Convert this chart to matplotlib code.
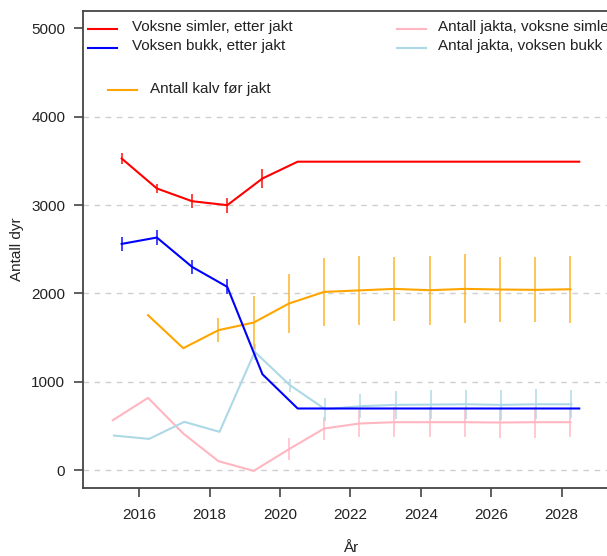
import matplotlib
matplotlib.use("Agg")
import matplotlib.pyplot as plt
from matplotlib.lines import Line2D
import numpy as np

plt.rcParams['font.family'] = ['Liberation Sans', 'DejaVu Sans']

# ---------------- data ----------------
years_adult = [2015.5, 2016.5, 2017.5, 2018.5, 2019.5, 2020.5, 2021.5, 2022.5,
               2023.5, 2024.5, 2025.5, 2026.5, 2027.5, 2028.5]
simler_etter = [3526, 3187, 3043, 2998, 3300, 3490, 3490, 3490, 3490, 3490, 3490, 3490, 3490, 3490]
simler_err = [60, 50, 80, 85, 107, 0, 0, 0, 0, 0, 0, 0, 0, 0]
bukk_etter = [2560, 2632, 2300, 2074, 1085, 698, 698, 698, 698, 698, 698, 698, 698, 698]
bukk_err = [80, 80, 80, 85, 0, 0, 0, 0, 0, 0, 0, 0, 0, 0]

years_kalv = [2016.25, 2017.25, 2018.25, 2019.25, 2020.25, 2021.25, 2022.25,
              2023.25, 2024.25, 2025.25, 2026.25, 2027.25, 2028.25]
kalv_for = [1753, 1380, 1584, 1670, 1885, 2017, 2034, 2051, 2036, 2051, 2044, 2040, 2047]
kalv_err = [0, 0, 138, 300, 335, 385, 393, 362, 392, 390, 373, 368, 380]

years_jakt_simle = [2015.25, 2016.25, 2017.25, 2018.25, 2019.25, 2020.25, 2021.25,
                    2022.25, 2023.25, 2024.25, 2025.25, 2026.25, 2027.25, 2028.25]
jakta_simler = [566, 818, 415, 102, -8, 237, 471, 528, 543, 543, 543, 539, 543, 543]
jakta_simler_err = [0, 0, 0, 0, 0, 122, 132, 155, 173, 170, 165, 170, 175, 165]

years_jakt_bukk = [2015.28, 2016.28, 2017.28, 2018.28, 2019.28, 2020.28, 2021.28,
                   2022.28, 2023.28, 2024.28, 2025.28, 2026.28, 2027.28, 2028.28]
jakta_bukk = [392, 354, 547, 434, 1338, 962, 690, 724, 739, 742, 746, 739, 746, 746]
jakta_bukk_err = [0, 0, 0, 0, 95, 75, 130, 138, 160, 165, 165, 170, 170, 160]

xticks = [2016, 2018, 2020, 2022, 2024, 2026, 2028]
yticks = [0, 1000, 2000, 3000, 4000, 5000]

labels = ["Voksne simler, etter jakt", "Voksen bukk, etter jakt",
          "Antall jakta, voksne simler", "Antal jakta, voksen bukk",
          "Antall kalv før jakt"]

# ---------------- figure ----------------
W, H = 607, 556
fig = plt.figure(figsize=(W / 100, H / 100), dpi=100)
ax = fig.add_axes([83.3 / W, 1 - 487.7 / H, 541.7 / W, 477.0 / H])

RED, BLUE, ORANGE, PINK, LBLUE = "#FF0000", "#0000FF", "#FFA500", "#FFB6C1", "#ADD8E6"

for v in yticks[:-1]:
    ax.axhline(v, color="#cfcfcf", lw=1.0, ls=(0, (4, 4)), zorder=0)

def series(x, y, err, color, lw=1.5, ealpha=0.8, z=2):
    ax.plot(x, y, color=color, lw=lw, zorder=z)
    e = np.array(err, dtype=float)
    m = e > 0
    ax.errorbar(np.array(x)[m], np.array(y)[m], yerr=e[m], fmt='none',
                ecolor=color, elinewidth=1.3, capsize=0, alpha=ealpha, zorder=z)

series(years_jakt_simle, jakta_simler, jakta_simler_err, PINK, z=2)
series(years_jakt_bukk, jakta_bukk, jakta_bukk_err, LBLUE, z=2)
series(years_kalv, kalv_for, kalv_err, ORANGE, ealpha=0.7, z=3)
series(years_adult, simler_etter, simler_err, RED, z=4)
series(years_adult, bukk_etter, bukk_err, BLUE, z=4)

ax.set_xlim(2014.41, 2029.8)
ax.set_ylim(-198, 5198)
ax.set_xticks(xticks)
ax.set_yticks(yticks)
ax.set_xticklabels([str(t) for t in xticks])
ax.set_yticklabels([str(t) for t in yticks])

for s in ['left', 'bottom', 'top', 'right']:
    ax.spines[s].set_color('#444444')
    ax.spines[s].set_linewidth(1.3)
ax.tick_params(axis='both', colors='#444444', length=6.5, width=1.2,
               labelsize=11, labelcolor='#222222')
ax.tick_params(axis='y', pad=6.5)
ax.tick_params(axis='x', pad=8)

ax.set_xlabel("År", fontsize=11, color='#222222', va='center')
ax.xaxis.set_label_coords(0.494, -60.5 / 477.0)
ax.set_ylabel("Antall dyr", fontsize=11, color='#222222', va='center')
ax.yaxis.set_label_coords(-66.6 / 541.7, 0.5)

# ---------------- legend (drawn manually like R) ----------------
def fx(px):
    return px / W

def fy(py):
    return 1 - py / H

entries = [
    (labels[0], RED, 88, 117, 131.7, 29.0),
    (labels[1], BLUE, 88, 117, 131.7, 47.7),
    (labels[2], PINK, 396.7, 426, 438.3, 29.0),
    (labels[3], LBLUE, 396.7, 426, 438.3, 47.7),
    (labels[4], ORANGE, 108, 137, 150, 90.0),
]
for text, col, x0, x1, xt, yy in entries:
    fig.add_artist(Line2D([fx(x0), fx(x1)], [fy(yy), fy(yy)], color=col, lw=1.5,
                          transform=fig.transFigure))
    fig.text(fx(xt), fy(yy - 1.5), text, fontsize=11, color='#222222',
             va='center', ha='left')

fig.savefig("out.png", dpi=100)
